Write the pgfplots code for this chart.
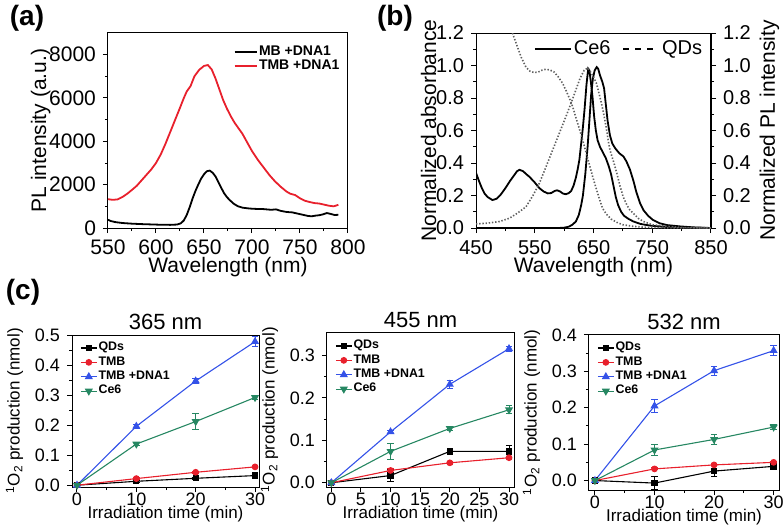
\documentclass[border=0pt]{standalone}
\usepackage{fontspec}
\setmainfont{Liberation Sans}
\usepackage{pgfplots}
\pgfplotsset{compat=1.18}

\definecolor{tmbred}{RGB}{232,32,44}
\definecolor{dnablue}{RGB}{52,82,232}
\definecolor{ceg}{RGB}{38,135,98}
\definecolor{qdgray}{RGB}{95,95,95}

\pgfplotsset{
  panel/.style={
    scale only axis, anchor=south west,
    tick align=outside, xtick pos=left, ytick pos=left,
    major tick length=2.5pt, minor tick length=1.5pt,
    every tick/.style={black,line width=0.5pt},
    axis line style={line width=0.5pt},
    /pgf/number format/assume math mode=true,
  },
  big/.style={
    tick label style={font=\fontsize{10}{10}\selectfont},
    label style={font=\fontsize{10.5}{12}\selectfont},
    xlabel shift=-5.5pt,
  },
  small/.style={
    tick label style={font=\fontsize{9}{9}\selectfont},
    xticklabel style={inner sep=0.5pt},
    label style={font=\fontsize{8.5}{10}\selectfont},
    xlabel style={inner sep=0.5pt},
    title style={font=\fontsize{11}{12}\selectfont,yshift=-7pt},
    xlabel shift=-1pt,
    ylabel shift=-1pt,
    yticklabel style={/pgf/number format/.cd,fixed,fixed zerofill,precision=1},
    legend style={at={(0.01,0.99)},anchor=north west,draw=none,fill=none,
      font=\bfseries\fontsize{6.2}{7}\selectfont,row sep=0.2pt,
      nodes={inner sep=0.6pt}},
    legend cell align=left,
    legend image code/.code={\draw[mark repeat=2,mark phase=2,#1]
      plot coordinates {(0pt,0pt) (4pt,0pt) (8pt,0pt)};},
    every axis plot/.append style={line width=0.55pt},
    error bars/error bar style={line width=0.5pt},
    error bars/error mark options={rotate=90,mark size=1.6pt,line width=0.5pt},
  },
  qd/.style={black,mark=square*,mark size=1.3pt,error bars/.cd,y dir=both,y explicit},
  tmb/.style={tmbred,mark=*,mark size=1.4pt,error bars/.cd,y dir=both,y explicit},
  dna/.style={dnablue,mark=triangle*,mark size=1.8pt,error bars/.cd,y dir=both,y explicit},
  ce/.style={ceg,mark=triangle*,mark options={rotate=180},mark size=1.8pt,error bars/.cd,y dir=both,y explicit},
}

\begin{document}
\begin{tikzpicture}
\path[use as bounding box] (0,0) rectangle (392pt,263.5pt);

\node[font=\bfseries\fontsize{14}{14}\selectfont] at (13.5pt,254.25pt) {(a)};
\node[font=\bfseries\fontsize{14}{14}\selectfont] at (197.5pt,254.25pt) {(b)};
\node[font=\bfseries\fontsize{14}{14}\selectfont] at (11.5pt,117.5pt) {(c)};

% (a)
\begin{axis}[panel, big,
  at={(54pt,149.5pt)}, width=120pt, height=97.5pt,
  xmin=550, xmax=800, ymin=0, ymax=9000,
  xtick={550,600,...,800}, ytick={0,2000,...,8000},
  minor x tick num=1, minor y tick num=1,
  scaled y ticks=false,
  tick label style={font=\fontsize{10.5}{10.5}\selectfont},
  yticklabel style={/pgf/number format/1000 sep={}},
  xticklabel style={/pgf/number format/1000 sep={}},
  xlabel={Wavelength (nm)}, ylabel={PL intensity (a.u.)},
  ylabel shift=-7.5pt,
  legend style={at={(0.998,0.965)},anchor=north east,draw=none,fill=none,
    font=\bfseries\fontsize{7}{8}\selectfont,row sep=-1pt,nodes={inner sep=0.8pt}},
  legend cell align=left,
  legend image code/.code={\draw[#1] (0pt,0pt) -- (11pt,0pt);},
]
\addplot[black,line width=0.9pt] coordinates {
(550,380) (553,320) (558,270) (565,230) (575,200) (585,180) (595,165)
(605,150) (615,145) (622,160) (626,220) (629,350) (632,600) (635,950)
(638,1350) (641,1700) (644,2000) (647,2280) (650,2480) (653,2620) (656,2650)
(659,2550) (662,2380) (665,2120) (668,1850) (671,1600) (674,1420) (677,1280)
(681,1120) (685,1010) (690,940) (695,910) (700,890) (705,880) (710,880)
(715,860) (720,840) (725,860) (730,790) (736,740) (742,720) (748,660)
(753,610) (758,560) (762,540) (766,570) (770,590) (774,630) (778,690)
(782,650) (786,600) (790,610)};
\addlegendentry{MB +DNA1}
\addplot[tmbred,line width=0.9pt] coordinates {
(550,1330) (555,1300) (560,1320) (565,1430) (570,1580) (575,1760) (580,1950)
(585,2200) (590,2450) (595,2700) (600,3000) (605,3400) (610,3900) (615,4450)
(620,5000) (625,5550) (629,6000) (632,6300) (636,6550) (640,7000) (645,7300)
(650,7480) (654,7520) (658,7320) (662,6900) (666,6400) (670,5900) (674,5500)
(678,5150) (682,4850) (686,4600) (690,4350) (695,3950) (700,3550) (706,3150)
(712,2800) (718,2450) (724,2150) (730,1900) (736,1680) (740,1580) (745,1520)
(750,1370) (755,1260) (760,1200) (765,1150) (770,1130) (775,1080) (780,1030)
(785,1000) (790,1070)};
\addlegendentry{TMB +DNA1}
\end{axis}

% (b) right axis
\begin{axis}[panel, big,
  at={(238pt,149.5pt)}, width=117.5pt, height=97.5pt,
  xmin=450, xmax=850, ymin=0, ymax=1.2,
  axis x line=none, axis y line*=right, ytick pos=right,
  ytick={0,0.2,...,1.2}, minor y tick num=1,
  yticklabel style={/pgf/number format/.cd,fixed,fixed zerofill,precision=1},
  ylabel={Normalized PL intensity},
  ylabel shift=-2.5pt,
]
\end{axis}

% (b)
\begin{axis}[panel, big,
  at={(238pt,149.5pt)}, width=117.5pt, height=97.5pt,
  xmin=450, xmax=850, ymin=0, ymax=1.2,
  xtick={450,550,...,850}, minor x tick num=1,
  ytick={0,0.2,...,1.2}, minor y tick num=1,
  yticklabel style={/pgf/number format/.cd,fixed,fixed zerofill,precision=1},
  xlabel={Wavelength (nm)}, ylabel={Normalized absorbance},
  ylabel shift=-7pt,
  legend columns=2,
  legend style={at={(0.998,0.995)},anchor=north east,draw=none,fill=none,
    font=\fontsize{10}{11}\selectfont,nodes={inner sep=1pt},
    /tikz/every even column/.append style={column sep=5pt}},
  legend image code/.code={\draw[#1] (0pt,0pt) -- (18pt,0pt);},
]
\addplot[black,line width=0.9pt,forget plot] coordinates {
(450,0.34) (455,0.29) (460,0.245) (465,0.21) (470,0.19) (478,0.172) (485,0.18)
(492,0.205) (500,0.245) (508,0.29) (515,0.325) (520,0.35) (524,0.358) (530,0.35)
(536,0.33) (541,0.315) (550,0.28) (558,0.245) (565,0.225) (572,0.213) (578,0.215)
(584,0.228) (588,0.232) (593,0.225) (598,0.212) (603,0.208) (608,0.215) (612,0.228)
(616,0.26) (620,0.31) (623,0.36) (626,0.42) (629,0.52) (632,0.62) (635,0.74)
(638,0.88) (641,0.98) (643,0.97) (645.5,0.9) (648.5,0.8) (651,0.69) (654,0.6)
(657,0.54) (661,0.5) (666,0.465) (671,0.43) (676,0.38) (680,0.33) (684,0.26)
(688,0.19) (692,0.14) (697,0.1) (702,0.075) (710,0.055) (718,0.04) (730,0.025)
(746,0.015) (770,0.007) (800,0.003) (850,0)};
\addplot[black,line width=0.9pt,forget plot] coordinates {
(450,0) (590,0) (600,0.002) (608,0.008) (614,0.02) (620,0.04) (625,0.08)
(629,0.14) (632,0.2) (636,0.33) (640,0.5) (643,0.66) (646,0.82) (649,0.92)
(652,0.97) (655.4,0.99) (658,0.98) (661,0.94) (665,0.9) (668,0.86) (671,0.76)
(674,0.66) (678,0.57) (682,0.52) (687,0.49) (694,0.46) (701,0.44) (706,0.41)
(712,0.36) (718,0.29) (723,0.22) (729,0.155) (735,0.11) (743,0.075) (751,0.05)
(762,0.03) (775,0.018) (797,0.01) (820,0.004) (850,0)};
\addplot[qdgray,line width=0.8pt,dash pattern=on 0.7pt off 0.9pt,forget plot] coordinates {
(500,1.31) (507,1.25) (513,1.19) (520,1.12) (527,1.05) (535,0.99) (542,0.965)
(549,0.956) (556,0.96) (563,0.972) (569,0.977) (576,0.972) (583,0.96) (590,0.93)
(597.5,0.89) (604,0.84) (610,0.79) (614.6,0.746) (620,0.68) (626,0.61) (631.6,0.54)
(637,0.47) (643,0.39) (648.6,0.316) (654,0.25) (660,0.18) (665.6,0.12) (672,0.085)
(680,0.055) (689.5,0.035) (700,0.02) (718,0.01) (740,0.004) (780,0.001) (850,0)};
\addplot[qdgray,line width=0.8pt,dash pattern=on 0.7pt off 0.9pt,forget plot] coordinates {
(450,0.025) (470,0.03) (490,0.04) (506.8,0.06) (520,0.09) (535,0.13) (547,0.2)
(557.8,0.275) (569,0.375) (580.5,0.48) (592,0.585) (603,0.685) (612,0.77) (620,0.85)
(627,0.92) (634,0.97) (640,0.985) (645,0.96) (650,0.93) (655,0.89) (660,0.82)
(664,0.76) (668,0.69) (672,0.61) (675,0.54) (678,0.48) (684,0.41) (689.5,0.34)
(695,0.26) (700.7,0.19) (707,0.14) (712,0.11) (718,0.09) (726,0.06) (735,0.04)
(750,0.02) (775,0.01) (800,0.003) (850,0)};
\addlegendimage{black,line width=0.9pt}
\addlegendentry{Ce6}
\addlegendimage{black,line width=0.8pt,dash pattern=on 3pt off 3pt}
\addlegendentry{QDs}
\end{axis}

% (c) 365 nm
\begin{axis}[panel, small,
  at={(36pt,20pt)}, width=93.5pt, height=76pt,
  xmin=-0.84, xmax=30.67, ymin=-0.006, ymax=0.5,
  xtick={0,10,20,30}, minor xtick={5,15,25},
  ytick={0,0.1,...,0.5}, minor y tick num=1,
  title={365 nm},
  xlabel={Irradiation time (min)},
  ylabel={\textsuperscript{1}O\textsubscript{2} production (nmol)},
]
\addplot[qd] coordinates {(0,0) +- (0,0.002) (10,0.013) +- (0,0.003) (20,0.023) +- (0,0.003) (30,0.032) +- (0,0.003)};
\addlegendentry{QDs}
\addplot[tmb] coordinates {(0,0) +- (0,0.002) (10,0.022) +- (0,0.003) (20,0.043) +- (0,0.003) (30,0.061) +- (0,0.003)};
\addlegendentry{TMB}
\addplot[dna] coordinates {(0,0) +- (0,0.002) (10,0.196) +- (0,0.007) (20,0.347) +- (0,0.007) (30,0.478) +- (0,0.016)};
\addlegendentry{TMB +DNA1}
\addplot[ce] coordinates {(0,0) +- (0,0.002) (10,0.137) +- (0,0.006) (20,0.212) +- (0,0.028) (30,0.292) +- (0,0.008)};
\addlegendentry{Ce6}
\end{axis}

% (c) 455 nm
\begin{axis}[panel, small,
  at={(163.5pt,20pt)}, width=93.5pt, height=77pt,
  xmin=-0.73, xmax=30.84, ymin=-0.01, ymax=0.353,
  xtick={0,5,...,30},
  ytick={0,0.1,...,0.3}, minor y tick num=1,
  title={455 nm},
  xlabel={Irradiation time (min)},
  ylabel={\textsuperscript{1}O\textsubscript{2} production (nmol)},
]
\addplot[qd] coordinates {(0,0) +- (0,0.002) (10,0.017) +- (0,0.014) (20,0.074) +- (0,0.003) (30,0.074) +- (0,0.015)};
\addlegendentry{QDs}
\addplot[tmb] coordinates {(0,0) +- (0,0.002) (10,0.029) +- (0,0.004) (20,0.047) +- (0,0.003) (30,0.059) +- (0,0.004)};
\addlegendentry{TMB}
\addplot[dna] coordinates {(0,0) +- (0,0.002) (10,0.12) +- (0,0.004) (20,0.232) +- (0,0.009) (30,0.316) +- (0,0.006)};
\addlegendentry{TMB +DNA1}
\addplot[ce] coordinates {(0,0) +- (0,0.002) (10,0.074) +- (0,0.019) (20,0.128) +- (0,0.005) (30,0.172) +- (0,0.009)};
\addlegendentry{Ce6}
\end{axis}

% (c) 532 nm
\begin{axis}[panel, small,
  at={(294.5pt,18.5pt)}, width=95pt, height=77.5pt,
  xmin=-1, xmax=30.9, ymin=-0.026, ymax=0.4,
  xtick={0,10,20,30}, minor xtick={5,15,25},
  ytick={0,0.1,...,0.4}, minor y tick num=1,
  title={532 nm},
  xlabel={Irradiation time (min)},
  ylabel={\textsuperscript{1}O\textsubscript{2} production (nmol)},
]
\addplot[qd] coordinates {(0,0) +- (0,0.002) (10,-0.007) +- (0,0.017) (20,0.026) +- (0,0.015) (30,0.039) +- (0,0.004)};
\addlegendentry{QDs}
\addplot[tmb] coordinates {(0,0) +- (0,0.002) (10,0.032) +- (0,0.003) (20,0.043) +- (0,0.003) (30,0.05) +- (0,0.003)};
\addlegendentry{TMB}
\addplot[dna] coordinates {(0,0) +- (0,0.002) (10,0.205) +- (0,0.018) (20,0.302) +- (0,0.012) (30,0.357) +- (0,0.014)};
\addlegendentry{TMB +DNA1}
\addplot[ce] coordinates {(0,0) +- (0,0.002) (10,0.084) +- (0,0.014) (20,0.113) +- (0,0.013) (30,0.147) +- (0,0.006)};
\addlegendentry{Ce6}
\end{axis}
\end{tikzpicture}
\end{document}
